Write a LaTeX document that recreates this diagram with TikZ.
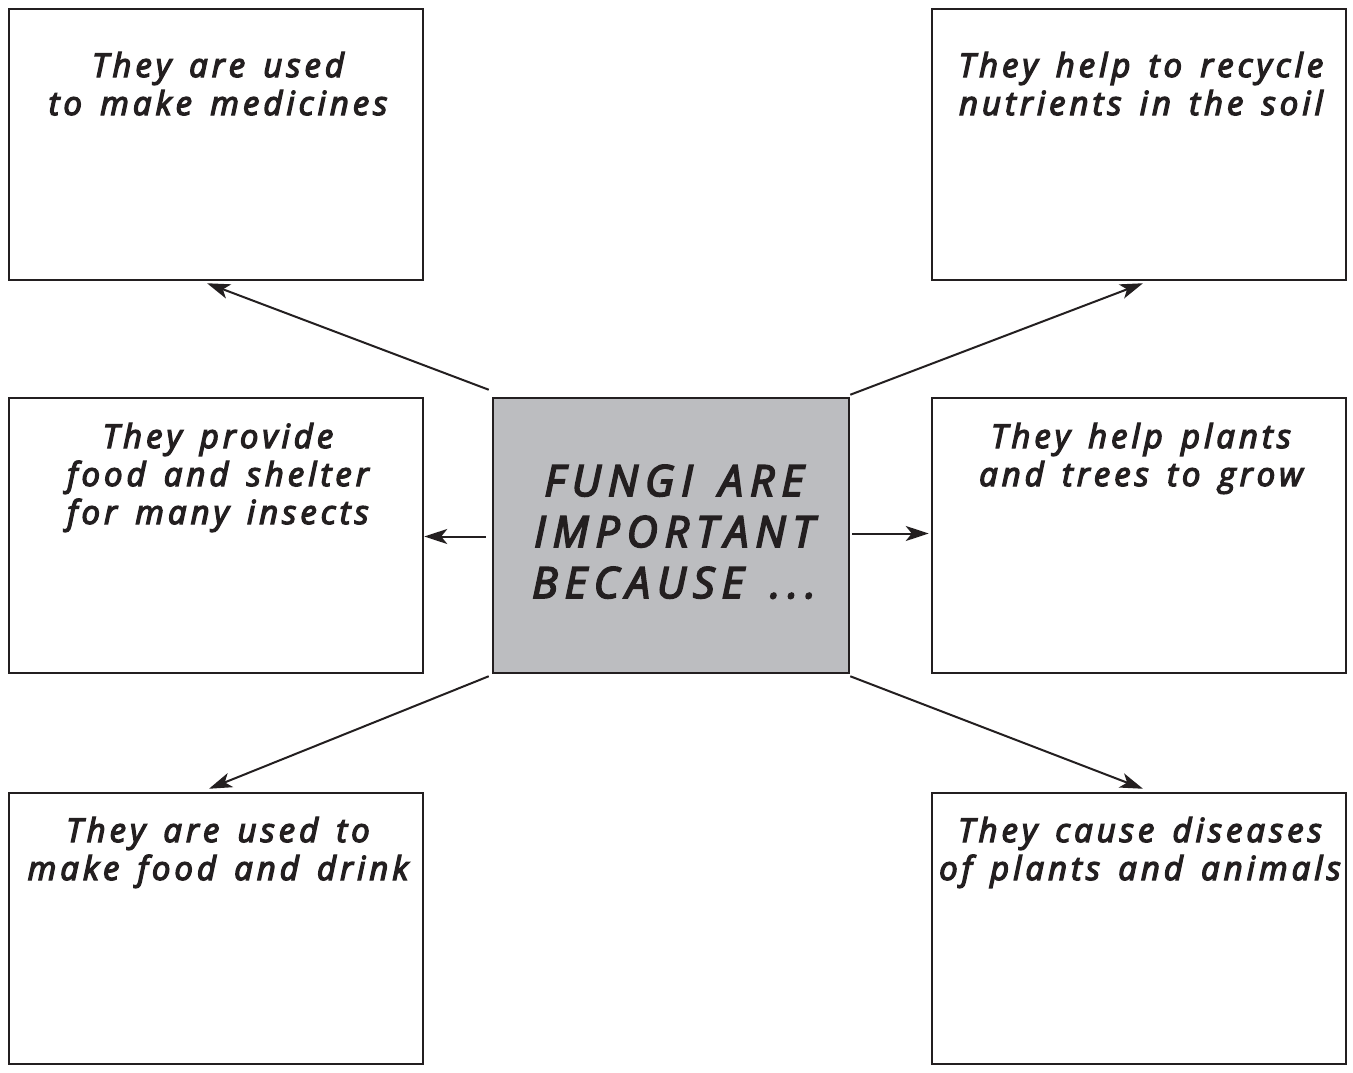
\documentclass[tikz,border=0pt]{standalone}
\usepackage{fontspec}
\usetikzlibrary{arrows.meta}
\newfontfamily\boxfont[LetterSpace=12,WordSpace=1.45,FakeBold=4]{Open Sans}
\newfontfamily\titlefont[LetterSpace=16,WordSpace=1.45,FakeBold=4]{Open Sans}
\definecolor{ink}{HTML}{231F20}
\definecolor{fill}{HTML}{BCBDC0}
\begin{document}
\begin{tikzpicture}[x=1pt,y=-1pt,
  box/.style={draw=ink,line width=2.5pt,rectangle,minimum width=414pt,minimum height=271pt,inner sep=0pt},
  lbl/.style={align=center,anchor=base,inner sep=0pt,text=ink,font=\boxfont\itshape\fontsize{33}{38}\selectfont},
  arr/.style={draw=ink,line width=2pt,-{Stealth[length=23pt,width=15pt,inset=6pt]}}]
\useasboundingbox (0,0) rectangle (1353,1073);
\node[box] (tl) at (216,144.5) {};
\node[box] (tr) at (1139,144.5) {};
\node[box,minimum height=275pt] (ml) at (216,535.5) {};
\node[box,minimum height=275pt] (mr) at (1139,535.5) {};
\node[box] (bl) at (216,928.5) {};
\node[box] (br) at (1139,928.5) {};
\node[box,fill=fill,minimum width=356pt,minimum height=275pt] (c) at (671,535.5) {};
\node[lbl] (tlt) at (218,115) {They are used\\to make medicines};
\node[lbl] (trt) at (1141,115) {They help to recycle\\nutrients in the soil};
\node[lbl] (mlt) at (218,524) {They provide\\food and shelter\\for many insects};
\node[lbl] (mrt) at (1141,486) {They help plants\\and trees to grow};
\node[lbl] (blt) at (218,880) {They are used to\\make food and drink};
\node[lbl] (brt) at (1140,880) {They cause diseases\\of plants and animals};
\node[lbl,font=\titlefont\itshape\fontsize{43}{51}\selectfont] (ct) at (674,598) {FUNGI ARE\\IMPORTANT\\BECAUSE ...};
\draw[arr] ([shift={(-3,-7)}]c.north west) -- ([shift={(-9,2)}]tl.south);
\draw[arr] ([shift={(0,-2)}]c.north east) -- ([shift={(4,2)}]tr.south);
\draw[arr] ([shift={(-6,1)}]c.west) -- ([shift={(0,1)}]ml.east);
\draw[arr] ([shift={(2,-2)}]c.east) -- ([shift={(-2,-2)}]mr.west);
\draw[arr] ([shift={(-3,2)}]c.south west) -- ([shift={(-7,-3)}]bl.north);
\draw[arr] ([shift={(0,2)}]c.south east) -- ([shift={(4,-3)}]br.north);
\end{tikzpicture}
\end{document}
